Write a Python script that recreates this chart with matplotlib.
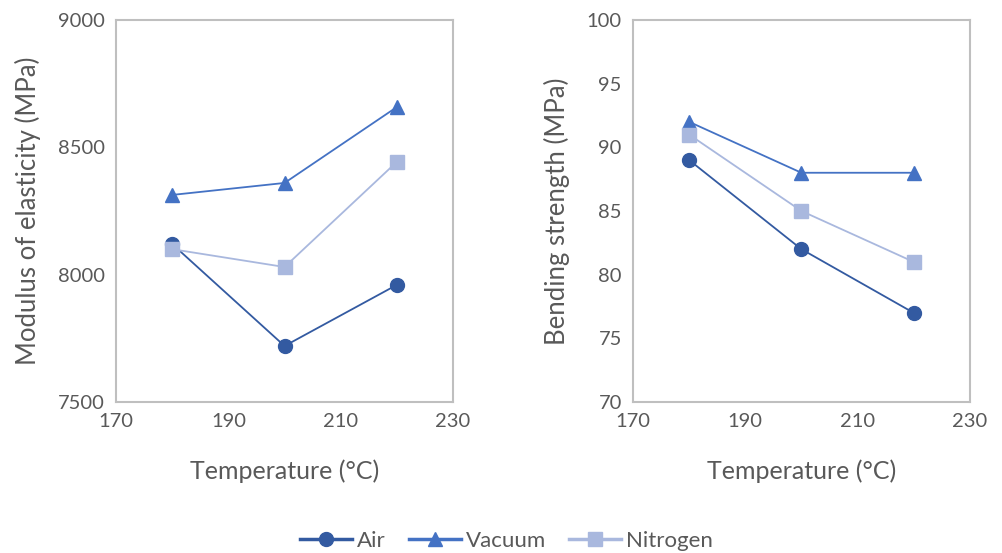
import matplotlib.pyplot as plt
from matplotlib.lines import Line2D

plt.rcParams['font.family'] = ['Lato', 'DejaVu Sans']

# temperatures and measured properties for each atmosphere
temperature = [180, 200, 220]
series_names = ['Air', 'Vacuum', 'Nitrogen']
modulus = {
    'Air': [8120, 7720, 7960],
    'Vacuum': [8313, 8360, 8658],
    'Nitrogen': [8100, 8030, 8443],
}
strength = {
    'Air': [89, 82, 77],
    'Vacuum': [92, 88, 88],
    'Nitrogen': [91, 85, 81],
}

colors = {'Air': '#335AA1', 'Vacuum': '#4472C4', 'Nitrogen': '#A9B8DE'}
markers = {'Air': 'o', 'Vacuum': '^', 'Nitrogen': 's'}
text_gray = '#595959'
frame_gray = '#BFBFBF'

fig = plt.figure(figsize=(10.03, 5.53), dpi=100)
ax1 = fig.add_axes([0.1157, 0.273, 0.336, 0.691])
ax2 = fig.add_axes([0.631, 0.273, 0.336, 0.691])


def draw_panel(ax, data, ylim, yticks, ylabel):
    for name in series_names:
        ax.plot(temperature, data[name], color=colors[name], marker=markers[name],
                markersize=10, linewidth=1.3, clip_on=False)
    ax.set_xlim(170, 230)
    ax.set_xticks([170, 190, 210, 230])
    ax.set_ylim(*ylim)
    ax.set_yticks(yticks)
    ax.tick_params(length=0, labelsize=14.5, labelcolor=text_gray, pad=8)
    for s in ax.spines.values():
        s.set_color(frame_gray)
        s.set_linewidth(1.5)
    ax.set_xlabel('Temperature (°C)', fontsize=18, color=text_gray, labelpad=21)
    ax.set_ylabel(ylabel, fontsize=18.5, color=text_gray, labelpad=12)


draw_panel(ax1, modulus, (7500, 9000), [7500, 8000, 8500, 9000], 'Modulus of elasticity (MPa)')
draw_panel(ax2, strength, (70, 100), [70, 75, 80, 85, 90, 95, 100], 'Bending strength (MPa)')

handles = [Line2D([], [], color=colors[n], marker=markers[n], markersize=10, linewidth=2.5)
           for n in series_names]
fig.legend(handles, series_names, loc='center', bbox_to_anchor=(0.505, 0.022), ncol=3,
           frameon=False, fontsize=16, labelcolor=text_gray, handlelength=2.35,
           handletextpad=0.2, columnspacing=1.05)

fig.savefig('out.png', dpi=100)
